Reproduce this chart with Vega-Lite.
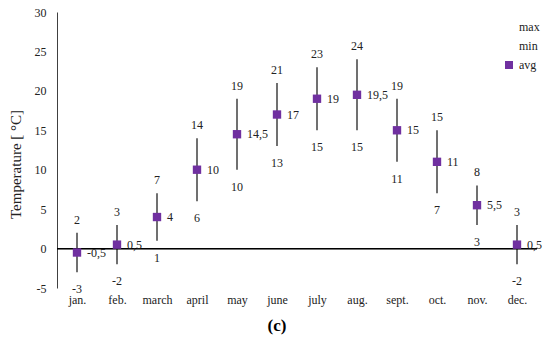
{
  "$schema": "https://vega.github.io/schema/vega-lite/v6.json",
  "width": 480,
  "height": 276,
  "autosize": {"type": "none"},
  "padding": {"left": 57, "top": 12, "right": 13, "bottom": 55},
  "data": {
    "values": [
      {"month": "jan.", "max": 2, "min": -3, "avg": -0.5},
      {"month": "feb.", "max": 3, "min": -2, "avg": 0.5},
      {"month": "march", "max": 7, "min": 1, "avg": 4},
      {"month": "april", "max": 14, "min": 6, "avg": 10},
      {"month": "may", "max": 19, "min": 10, "avg": 14.5},
      {"month": "june", "max": 21, "min": 13, "avg": 17},
      {"month": "july", "max": 23, "min": 15, "avg": 19},
      {"month": "aug.", "max": 24, "min": 15, "avg": 19.5},
      {"month": "sept.", "max": 19, "min": 11, "avg": 15},
      {"month": "oct.", "max": 15, "min": 7, "avg": 11},
      {"month": "nov.", "max": 8, "min": 3, "avg": 5.5},
      {"month": "dec.", "max": 3, "min": -2, "avg": 0.5}
    ]
  },
  "title": {
    "text": "(c)",
    "orient": "bottom",
    "anchor": "middle",
    "fontSize": 17,
    "fontWeight": "bold",
    "font": "Liberation Serif",
    "color": "#000000",
    "offset": 13,
    "dx": -20
  },
  "encoding": {
    "x": {
      "field": "month",
      "type": "nominal",
      "sort": null,
      "scale": {"type": "point", "padding": 0.5},
      "axis": {
        "title": null,
        "domain": false,
        "ticks": false,
        "labelAngle": 0,
        "labelPadding": 6,
        "labelFontSize": 12,
        "labelColor": "#222222"
      }
    }
  },
  "layer": [
    {
      "mark": {"type": "rule", "color": "#404040", "strokeWidth": 1.5},
      "encoding": {
        "y": {
          "field": "min",
          "type": "quantitative",
          "scale": {"domain": [-5, 30], "nice": false, "zero": false},
          "axis": {
            "title": "Temperature [ °C]",
            "titleFontSize": 15,
            "titleFontWeight": "normal",
            "titleColor": "#222222",
            "titleX": -42,
            "titleY": 152,
            "titleBaseline": "middle",
            "tickCount": 7,
            "labelOverlap": false,
            "labelBound": false,
            "labelFlush": false,
            "grid": false,
            "ticks": false,
            "domain": true,
            "domainColor": "#404040",
            "labelPadding": 11,
            "labelFontSize": 12,
            "labelColor": "#222222"
          }
        },
        "y2": {"field": "max"}
      }
    },
    {
      "mark": {"type": "rule", "color": "#000000", "strokeWidth": 1},
      "encoding": {"y": {"datum": 0, "type": "quantitative"}, "x": null}
    },
    {
      "mark": {"type": "square", "size": 70, "opacity": 1, "filled": true},
      "encoding": {
        "y": {"field": "avg", "type": "quantitative"},
        "color": {
          "datum": "avg",
          "type": "nominal",
          "scale": {"domain": ["max", "min", "avg"], "range": ["transparent", "transparent", "#7030A0"]},
          "legend": {
            "title": null,
            "orient": "none",
            "legendX": 446,
            "legendY": 9,
            "padding": 0,
            "symbolType": "square",
            "symbolSize": 64,
            "symbolStrokeWidth": 0,
            "labelOffset": 4,
            "labelFontSize": 12,
            "labelColor": "#222222",
            "rowPadding": 7
          }
        }
      }
    },
    {
      "mark": {"type": "text", "dy": -13, "baseline": "middle", "fontSize": 12, "color": "#222222"},
      "encoding": {
        "y": {"field": "max", "type": "quantitative"},
        "text": {"field": "max", "type": "quantitative", "format": "~r"}
      }
    },
    {
      "mark": {"type": "text", "dy": 17, "baseline": "middle", "fontSize": 12, "color": "#222222"},
      "encoding": {
        "y": {"field": "min", "type": "quantitative"},
        "text": {"field": "min", "type": "quantitative", "format": "~r"}
      }
    },
    {
      "mark": {"type": "text", "dx": 10, "align": "left", "baseline": "middle", "fontSize": 12, "color": "#222222"},
      "encoding": {
        "y": {"field": "avg", "type": "quantitative"},
        "text": {"field": "avg", "type": "quantitative", "format": "~r"}
      }
    }
  ],
  "config": {
    "font": "Liberation Serif",
    "view": {"stroke": null},
    "axis": {"labelOverlap": false},
    "locale": {
      "number": {"decimal": ",", "thousands": " ", "grouping": [3], "currency": ["", ""], "minus": "-"}
    }
  }
}
